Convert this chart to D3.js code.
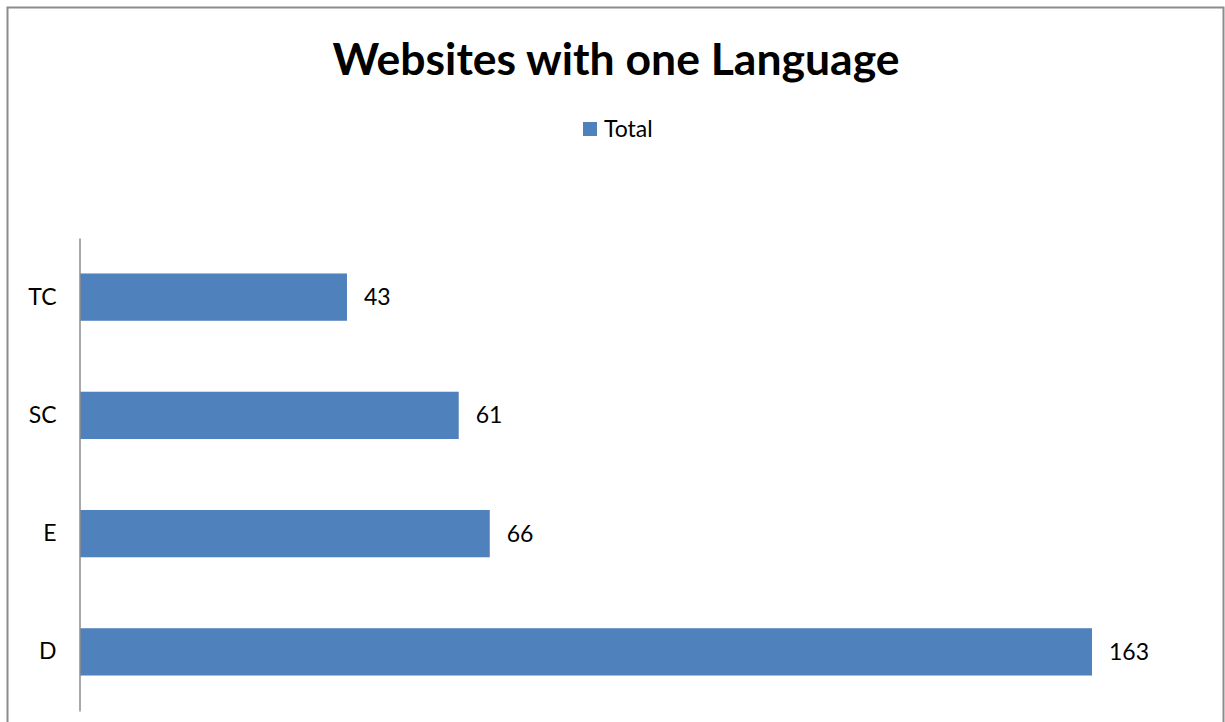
<!DOCTYPE html>
<html>
<head>
<meta charset="utf-8">
<script src="https://cdn.jsdelivr.net/npm/d3@7"></script>
<style>
  html, body { margin: 0; padding: 0; background: #fff; }
  svg { display: block; font-family: Lato, "Open Sans", sans-serif; }
</style>
</head>
<body>
<svg id="chart" width="1225" height="722"></svg>
<script>
// Websites with a single language, by language version
const categories = ["TC", "SC", "E", "D"];
const totals = [43, 61, 66, 163];
const seriesName = "Total";
const chartTitle = "Websites with one Language";

const W = 1225, H = 722;
const margin = { left: 80, right: 133, top: 238, bottom: 11 };
const svg = d3.select("#chart");

// chart frame
svg.append("rect")
  .attr("x", 7.5).attr("y", 7.5)
  .attr("width", 1216).attr("height", 730)
  .attr("fill", "#fff").attr("stroke", "#8c8c8c").attr("stroke-width", 2);

const x = d3.scaleLinear()
  .domain([0, 163])
  .range([margin.left, 1092]);

const y = d3.scaleBand()
  .domain(categories)
  .range([margin.top, H - margin.bottom])
  .paddingInner(0.6)
  .paddingOuter(0.3);

// bars
svg.append("g").selectAll("rect")
  .data(categories)
  .join("rect")
  .attr("x", x(0))
  .attr("y", d => y(d))
  .attr("width", (d, i) => x(totals[i]) - x(0))
  .attr("height", y.bandwidth())
  .attr("fill", "#4f81bd");

// value labels
svg.append("g").selectAll("text")
  .data(categories)
  .join("text")
  .attr("x", (d, i) => x(totals[i]) + 17)
  .attr("y", d => y(d) + y.bandwidth() / 2)
  .attr("dy", "0.35em")
  .attr("font-size", 23)
  .attr("fill", "#000")
  .text((d, i) => totals[i]);

// category axis
const yAxis = d3.axisLeft(y).tickSize(0).tickPadding(23);
const gAxis = svg.append("g")
  .attr("transform", `translate(${margin.left - 0.5},0)`)
  .call(yAxis);
gAxis.select(".domain").attr("stroke", "#8c8c8c").attr("stroke-width", 1.5);
gAxis.selectAll("text").attr("font-size", 23).attr("fill", "#000")
  .attr("font-family", "Lato, 'Open Sans', sans-serif");

// title
svg.append("text")
  .attr("x", 616).attr("y", 75)
  .attr("text-anchor", "middle")
  .attr("font-size", 44.5).attr("font-weight", "bold")
  .text(chartTitle);

// legend
const lg = svg.append("g").attr("transform", "translate(583,122)");
lg.append("rect").attr("width", 14).attr("height", 14).attr("fill", "#4f81bd");
lg.append("text").attr("x", 21).attr("y", 7).attr("dy", "0.35em")
  .attr("font-size", 23).text(seriesName);
</script>
</body>
</html>
